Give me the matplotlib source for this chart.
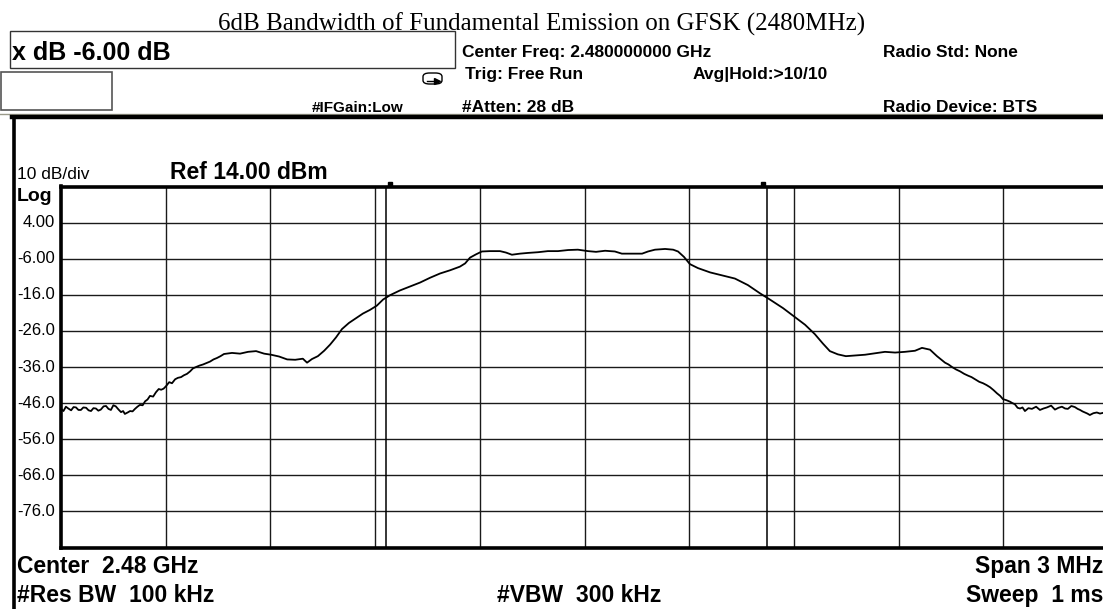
import matplotlib
matplotlib.use("Agg")
import matplotlib.pyplot as plt
from matplotlib.lines import Line2D
from matplotlib.patches import Rectangle, FancyBboxPatch

# ==========================
# DATA
# ==========================
CENTER_GHZ = 2.48
SPAN_MHZ = 3.0
REF_DBM = 14.0
DB_PER_DIV = 10.0

# trace, offset from centre (MHz) and level (dBm)
trace_mhz = [
    -1.500, -1.493, -1.486, -1.479, -1.471, -1.464, -1.457, -1.450, -1.443, -1.436,
    -1.428, -1.421, -1.414, -1.407, -1.400, -1.393, -1.386, -1.378, -1.371, -1.364,
    -1.357, -1.350, -1.343, -1.335, -1.328, -1.322, -1.317, -1.309, -1.302, -1.295,
    -1.288, -1.281, -1.274, -1.266, -1.259, -1.252, -1.245, -1.236, -1.228, -1.220,
    -1.213, -1.206, -1.199, -1.190, -1.182, -1.173, -1.165, -1.156, -1.148, -1.139,
    -1.130, -1.122, -1.113, -1.103, -1.093, -1.083, -1.073, -1.063, -1.053, -1.043,
    -1.033, -1.010, -0.987, -0.964, -0.941, -0.918, -0.898, -0.875, -0.852, -0.829,
    -0.807, -0.795, -0.781, -0.764, -0.746, -0.729, -0.712, -0.695, -0.675, -0.655,
    -0.635, -0.615, -0.595, -0.577, -0.557, -0.529, -0.500, -0.471, -0.443, -0.414,
    -0.385, -0.357, -0.342, -0.328, -0.311, -0.294, -0.271, -0.242, -0.225, -0.208,
    -0.185, -0.162, -0.133, -0.105, -0.076, -0.047, -0.019, 0.010, 0.033, 0.059,
    0.087, 0.107, 0.136, 0.165, 0.182, 0.202, 0.231, 0.254, 0.268, 0.285,
    0.302, 0.325, 0.360, 0.394, 0.431, 0.468, 0.503, 0.531, 0.569, 0.603,
    0.632, 0.660, 0.683, 0.703, 0.726, 0.749, 0.775, 0.804, 0.832, 0.861,
    0.890, 0.918, 0.947, 0.967, 0.990, 1.010, 1.033, 1.043, 1.053, 1.065,
    1.076, 1.088, 1.099, 1.109, 1.119, 1.131, 1.142, 1.152, 1.162, 1.172,
    1.182, 1.191, 1.199, 1.209, 1.219, 1.226, 1.233, 1.241, 1.248, 1.255,
    1.262, 1.272, 1.282, 1.294, 1.305, 1.315, 1.325, 1.337, 1.348, 1.358,
    1.368, 1.377, 1.385, 1.395, 1.405, 1.413, 1.420, 1.427, 1.434, 1.441,
    1.448, 1.458, 1.468, 1.477, 1.486, 1.493, 1.500,
]
trace_dbm = [
    -47.6, -48.2, -47.0, -47.5, -48.0, -47.1, -47.2, -47.9, -47.9, -47.2,
    -47.3, -48.0, -48.2, -47.4, -47.5, -48.1, -47.8, -46.9, -46.8, -47.6,
    -47.9, -46.6, -46.9, -47.8, -48.5, -48.2, -49.0, -48.6, -48.2, -48.3,
    -47.6, -47.0, -46.5, -46.6, -45.5, -45.0, -44.0, -44.2, -43.0, -42.1,
    -42.3, -42.0, -41.3, -40.2, -40.5, -39.4, -39.0, -38.8, -38.3, -37.9,
    -37.2, -36.4, -36.0, -35.6, -35.3, -34.9, -34.5, -33.9, -33.5, -33.0,
    -32.4, -32.1, -32.3, -31.8, -31.6, -32.3, -32.6, -33.1, -33.9, -34.0,
    -33.7, -34.8, -33.8, -33.0, -31.5, -29.8, -27.8, -25.5, -23.8, -22.5,
    -21.2, -20.2, -19.0, -17.3, -16.1, -14.8, -13.7, -12.6, -11.3, -10.1,
    -9.2, -8.2, -7.3, -5.7, -4.8, -4.0, -3.9, -3.9, -4.3, -4.9,
    -4.6, -4.4, -4.2, -3.9, -3.9, -3.6, -3.5, -3.9, -4.1, -3.8,
    -4.0, -4.6, -4.6, -4.6, -4.0, -3.5, -3.3, -3.5, -4.0, -5.5,
    -7.5, -8.6, -9.8, -10.6, -11.5, -13.3, -15.6, -17.3, -19.7, -22.2,
    -24.3, -26.9, -29.5, -31.6, -32.5, -33.0, -32.8, -32.6, -32.2, -31.8,
    -32.0, -31.8, -31.5, -30.7, -31.2, -33.0, -34.8, -35.3, -36.0, -36.7,
    -37.2, -37.9, -38.4, -38.8, -39.4, -40.1, -40.5, -41.0, -41.6, -42.4,
    -43.3, -44.0, -44.9, -45.2, -45.6, -46.0, -46.3, -47.3, -47.5, -47.2,
    -48.2, -47.4, -47.6, -47.0, -47.9, -47.5, -47.2, -46.7, -47.8, -47.3,
    -47.0, -47.5, -47.6, -46.8, -47.1, -47.6, -47.9, -48.3, -48.6, -48.9,
    -49.3, -48.8, -48.6, -48.9, -48.7, -48.3, -48.6,
]

# x dB markers (MHz offset)
marker_mhz = [-0.569, 0.523]
marker_dot_mhz = [-0.557, 0.511]

ytick_vals = [4, -6, -16, -26, -36, -46, -56, -66, -76]
ytick_labels = ["4.00", "-6.00", "-16.0", "-26.0", "-36.0", "-46.0", "-56.0", "-66.0", "-76.0"]

TITLE = "6dB Bandwidth of Fundamental Emission on GFSK (2480MHz)"

W, H = 1103, 609
SANS = "Liberation Sans"


def fx(x):
    return x / W


def fy(y):
    return 1 - y / H


fig = plt.figure(figsize=(W / 100, H / 100), dpi=100)
fig.patch.set_facecolor("white")

# ==========================
# PLOT AREA
# ==========================
left, right, top, bottom = 61, 1108, 186.5, 547.5
ax = fig.add_axes([fx(left), fy(bottom), (right - left) / W, (bottom - top) / H])
ax.set_xlim(-SPAN_MHZ / 2, SPAN_MHZ / 2)
ax.set_ylim(REF_DBM - 10 * DB_PER_DIV, REF_DBM)

for i in range(1, 10):
    ax.axvline(-SPAN_MHZ / 2 + i * SPAN_MHZ / 10, color="#1a1a1a", lw=1.0, zorder=1)
for v in ytick_vals:
    ax.axhline(v, color="#1a1a1a", lw=1.0, zorder=1)

for m in marker_mhz:
    ax.axvline(m, color="black", lw=1.1, zorder=2)
ax.plot(marker_dot_mhz, [REF_DBM + 0.6] * 2, "s", color="black", ms=2.5,
        clip_on=False, zorder=5)

ax.plot(trace_mhz, trace_dbm, color="black", lw=1.3, zorder=3)

ax.set_xticks([])
ax.set_yticks([])
for side in ["top", "bottom", "left"]:
    ax.spines[side].set_linewidth(2.6)
ax.spines["right"].set_visible(False)

for v, lab in zip(ytick_vals, ytick_labels):
    fig.text(fx(55), fy(top + (REF_DBM - v) / DB_PER_DIV * (bottom - top) / 10),
             lab, ha="right", va="center", fontsize=12, family=SANS)

# ==========================
# SCREEN FRAME + HEADER
# ==========================
fig.add_artist(Line2D([fx(0), fx(W)], [fy(113.5), fy(113.5)], color="#9a9a8a", lw=1.0))
fig.add_artist(Line2D([fx(12), fx(W)], [fy(117), fy(117)], color="black", lw=3.2))
fig.add_artist(Line2D([fx(13.5), fx(13.5)], [fy(117), fy(H)], color="black", lw=2.6))

fig.add_artist(Rectangle((fx(10), fy(68)), fx(445), 37 / H, transform=fig.transFigure,
                         fill=False, ec="#333333", lw=1.0))
fig.add_artist(Rectangle((fx(0.5), fy(110)), fx(111), 38 / H, transform=fig.transFigure,
                         fill=False, ec="#555555", lw=1.2))

# little trigger icon
fig.add_artist(FancyBboxPatch((fx(423), fy(84)), fx(19), 11 / H,
                              boxstyle="round,pad=0,rounding_size=0.006",
                              transform=fig.transFigure, fill=False, ec="black", lw=1.0))
fig.add_artist(Line2D([fx(427), fx(436)], [fy(80.5), fy(80.5)], color="black", lw=1.0))
fig.add_artist(Line2D([fx(437)], [fy(80.5)], marker=">", color="black", ms=4))

fig.text(0.491, fy(31), TITLE, ha="center", va="baseline", fontsize=18,
         family="Liberation Serif")
fig.text(fx(12), fy(60), "x dB -6.00 dB", ha="left", va="baseline", fontsize=18,
         family=SANS, weight="bold")
fig.text(fx(312), fy(112), "#IFGain:Low", ha="left", va="baseline", fontsize=11,
         family=SANS, weight="bold")

hdr = dict(ha="left", va="baseline", fontsize=12.5, family=SANS, weight="bold")
fig.text(fx(462), fy(57), "Center Freq: 2.480000000 GHz", **hdr)
fig.text(fx(465), fy(79), "Trig: Free Run", **hdr)
fig.text(fx(693), fy(79), "Avg|Hold:>10/10", **hdr)
fig.text(fx(462), fy(112), "#Atten: 28 dB", **hdr)
fig.text(fx(883), fy(57), "Radio Std: None", **hdr)
fig.text(fx(883), fy(112), "Radio Device: BTS", **hdr)

# ==========================
# SCALE / FOOTER TEXT
# ==========================
fig.text(fx(17), fy(179), "10 dB/div", ha="left", va="baseline", fontsize=12.5, family=SANS)
fig.text(fx(170), fy(179), "Ref 14.00 dBm", ha="left", va="baseline", fontsize=16.5,
         family=SANS, weight="bold")
fig.text(fx(17), fy(201), "Log", ha="left", va="baseline", fontsize=14, family=SANS,
         weight="bold")

ftr = dict(va="baseline", fontsize=16.5, family=SANS, weight="bold")
fig.text(fx(17), fy(573), "Center  2.48 GHz", ha="left", **ftr)
fig.text(fx(17), fy(602), "#Res BW  100 kHz", ha="left", **ftr)
fig.text(fx(497), fy(602), "#VBW  300 kHz", ha="left", **ftr)
fig.text(fx(1103), fy(573), "Span 3 MHz", ha="right", **ftr)
fig.text(fx(1103), fy(602), "Sweep  1 ms", ha="right", **ftr)

fig.savefig("out.png", dpi=100)
plt.close(fig)
